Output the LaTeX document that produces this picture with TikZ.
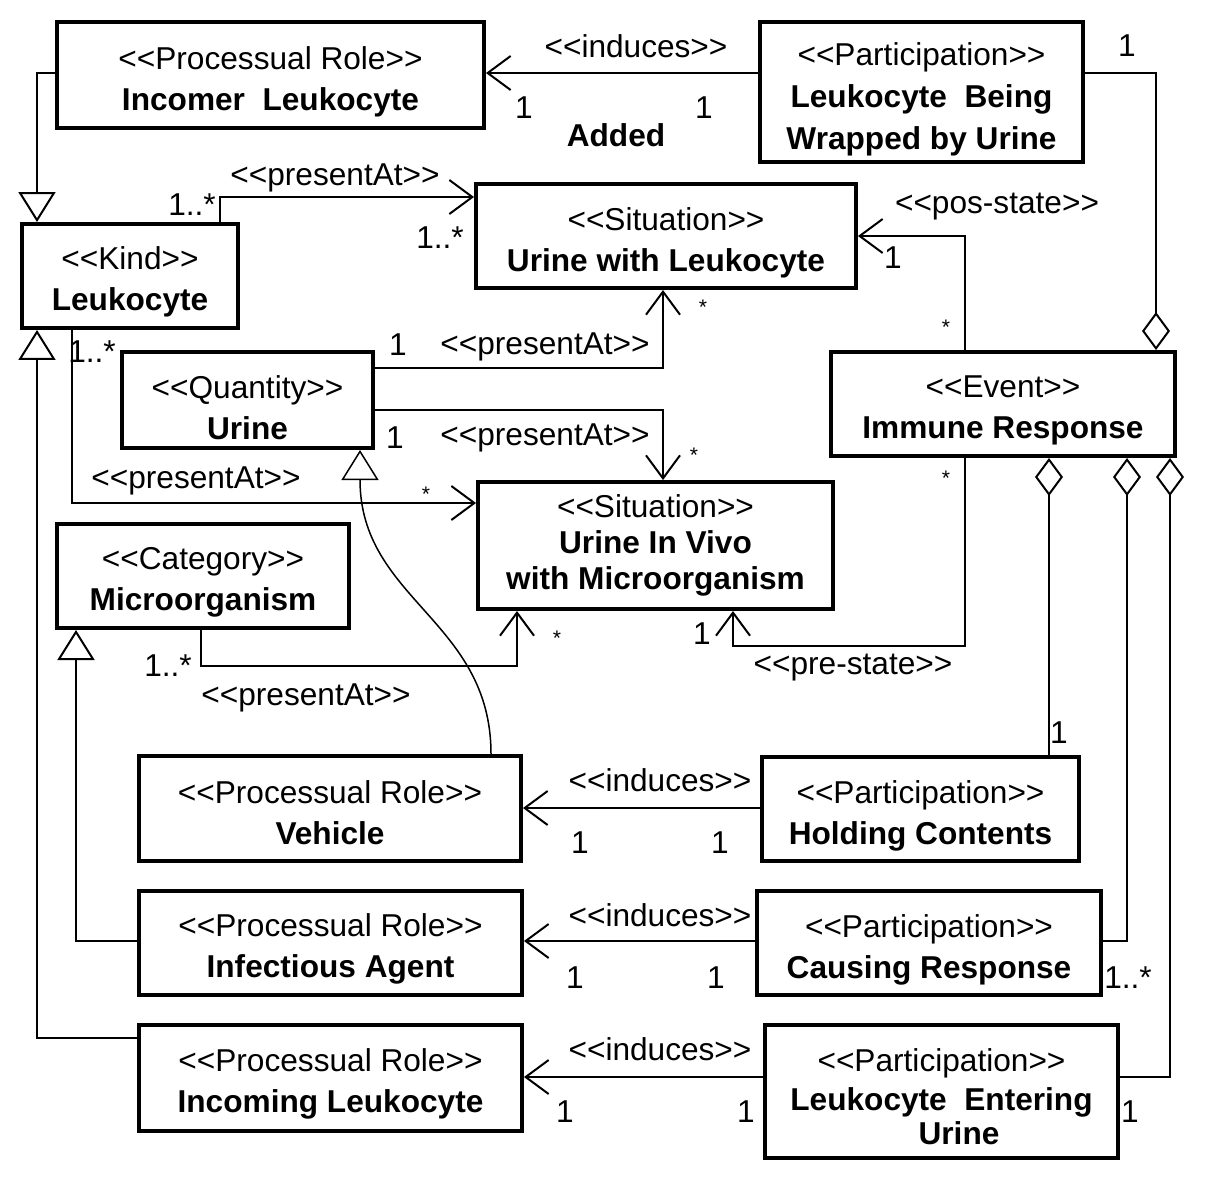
\documentclass[tikz,border=0pt]{standalone}
\usepackage{fontspec}
\setmainfont{Liberation Sans}[Ligatures=TeXOff]
\usetikzlibrary{arrows.meta}
\begin{document}
\begin{tikzpicture}[x=0.02cm,y=-0.02cm,
  box/.style={draw, line width=0.08cm, inner sep=0pt},
  btext/.style={align=center, inner sep=0pt, font=\fontsize{18}{23.3}\selectfont},
  conn/.style={line width=0.04cm},
  assoc/.style={conn, -{Straight Barb[length=0.46cm,width=0.68cm]}},
  gen/.style={conn, -{Triangle[open,length=0.6cm,width=0.74cm]}},
  agg/.style={conn, -{Diamond[open,length=0.76cm,width=0.56cm]}},
  lbl/.style={font=\fontsize{18}{22}\selectfont, inner sep=0pt},
  star/.style={font=\fontsize{12}{14}\selectfont, inner sep=0pt}]
\useasboundingbox (0,0) rectangle (1206,1178);

% boxes
\node[box, minimum width=8.54cm, minimum height=2.12cm] (A) at (270.5,75) {};
\node[box, minimum width=6.46cm, minimum height=2.80cm] (B) at (921.5,92) {};
\node[box, minimum width=4.32cm, minimum height=2.08cm] (C) at (130,276) {};
\node[box, minimum width=7.60cm, minimum height=2.08cm] (D) at (666,236) {};
\node[box, minimum width=5.02cm, minimum height=1.92cm] (E) at (247.5,400) {};
\node[box, minimum width=6.88cm, minimum height=2.08cm] (F) at (1003,404) {};
\node[box, minimum width=7.10cm, minimum height=2.54cm] (G) at (655.5,545.5) {};
\node[box, minimum width=5.84cm, minimum height=2.08cm] (H) at (203,576) {};
\node[box, minimum width=7.64cm, minimum height=2.10cm] (I) at (330,808.5) {};
\node[box, minimum width=6.34cm, minimum height=2.08cm] (J) at (920.5,809) {};
\node[box, minimum width=7.66cm, minimum height=2.08cm] (K) at (330.5,943) {};
\node[box, minimum width=6.88cm, minimum height=2.08cm] (L) at (929,943) {};
\node[box, minimum width=7.66cm, minimum height=2.12cm] (M) at (330.5,1078) {};
\node[box, minimum width=7.06cm, minimum height=2.66cm] (N) at (941.5,1091.5) {};

% box texts
\node[btext] (At) at (270.5,81.5) {<<Processual Role>>\\\textbf{Incomer\ \ Leukocyte}};
\node[btext] (Bt) at (921.5,99) {<<Participation>>\\[0.5pt]\textbf{Leukocyte\ \ Being}\\[0.5pt]\textbf{Wrapped by Urine}};
\node[btext] (Ct) at (130,282) {<<Kind>>\\\textbf{Leukocyte}};
\node[btext] (Dt) at (666,243) {<<Situation>>\\\textbf{Urine with Leukocyte}};
\node[btext] (Et) at (247.5,408) {<<Quantity>>\\\textbf{Urine}};
\node[btext] (Ft) at (1003,410.5) {<<Event>>\\\textbf{Immune Response}};
\node[btext] (Gt) at (655.5,545.5) {<<Situation>>\\[-3pt]\textbf{Urine In Vivo}\\[-3pt]\textbf{with Microorganism}};
\node[btext] (Ht) at (203,582.5) {<<Category>>\\\textbf{Microorganism}};
\node[btext] (It) at (330,812.5) {<<Processual Role>>\\\textbf{Vehicle}};
\node[btext] (Jt) at (920.5,815.5) {<<Participation>>\\\textbf{Holding Contents}};
\node[btext] (Kt) at (330.5,949) {<<Processual Role>>\\\textbf{Infectious Agent}};
\node[btext] (Lt) at (929,949.5) {<<Participation>>\\\textbf{Causing Response}};
\node[btext] (Mt) at (330.5,1084) {<<Processual Role>>\\\textbf{Incoming Leukocyte}};
\node[btext] (Nt) at (941.5,1097) {<<Participation>>\\[-1pt]\textbf{Leukocyte\ \ Entering}\\[-4pt]\hspace*{0.7cm}\textbf{Urine}};

% connectors
\draw[assoc] (B.west |- 0,73) -- (A.east |- 0,73);
\draw[gen] (A.west |- 0,73) -| (C.north -| 37,0);
\draw[agg] (B.east |- 0,73) -| (F.north -| 1156,0);
\draw[assoc] (C.north -| 220,0) |- (D.west |- 0,197);
\draw[assoc] (E.east |- 0,368) -| (D.south -| 663,0);
\draw[assoc] (E.east |- 0,410) -| (G.north -| 663,0);
\draw[assoc] (C.south -| 72,0) |- (G.west |- 0,503);
\draw[assoc] (H.south -| 201,0) |- (517,666) -- (G.south -| 517,0);
\draw[assoc] (F.north -| 965,0) |- (D.east |- 0,236);
\draw[assoc] (F.south -| 965,0) |- (733,646) -- (G.south -| 733,0);
\draw[agg] (J.north -| 1049,0) -- (F.south -| 1049,0);
\draw[agg] (L.east |- 0,941) -| (F.south -| 1127,0);
\draw[agg] (N.east |- 0,1077) -| (F.south -| 1170,0);
\draw[assoc] (J.west |- 0,808) -- (I.east |- 0,808);
\draw[assoc] (L.west |- 0,941) -- (K.east |- 0,941);
\draw[assoc] (N.west |- 0,1077) -- (M.east |- 0,1077);
\draw[gen, line width=0.03cm] (I.north -| 491,0) .. controls (491,620) and (360,600) .. (E.south -| 360,0);
\draw[gen] (K.west |- 0,941) -| (H.south -| 76,0);
\draw[gen] (M.west |- 0,1038) -| (C.south -| 37,0);

% labels
\node[lbl] (t1) at (636,46) {<<induces>>};
\node[lbl] (t2) at (524,108) {1};
\node[lbl] (t3) at (704,108) {1};
\node[lbl] (t4) at (616,135) {\textbf{Added}};
\node[lbl] (t5) at (1127,46) {1};
\node[lbl] (t6) at (192,205) {1..*};
\node[lbl] (t7) at (335,178) {<<presentAt>>};
\node[lbl] (t8) at (440,238) {1..*};
\node[lbl] (t9) at (398,345) {1};
\node[lbl] (t10) at (545,347) {<<presentAt>>};
\node[star] (t11) at (703,307) {*};
\node[lbl] (t12) at (395,438) {1};
\node[lbl] (t13) at (545,438) {<<presentAt>>};
\node[star] (t14) at (694,455) {*};
\node[lbl] (t15) at (92,352) {1..*};
\node[lbl] (t16) at (196,481) {<<presentAt>>};
\node[star] (t17) at (426,494) {*};
\node[lbl] (t18) at (168,666) {1..*};
\node[lbl] (t19) at (306,698) {<<presentAt>>};
\node[star] (t20) at (557,638) {*};
\node[lbl] (t21) at (997,207) {<<pos-state>>};
\node[lbl] (t22) at (893,258) {1};
\node[star] (t23) at (946,327) {*};
\node[star] (t24) at (946,478) {*};
\node[lbl] (t25) at (702,634) {1};
\node[lbl] (t26) at (853,668) {<<pre-state>>};
\node[lbl] (t27) at (1059,733) {1};
\node[lbl] (t28) at (1128,978) {1..*};
\node[lbl] (t29) at (1130,1112) {1};
\node[lbl] (t30) at (660,780) {<<induces>>};
\node[lbl] (t31) at (580,843) {1};
\node[lbl] (t32) at (720,843) {1};
\node[lbl] (t33) at (660,915) {<<induces>>};
\node[lbl] (t34) at (575,978) {1};
\node[lbl] (t35) at (716,978) {1};
\node[lbl] (t36) at (660,1049) {<<induces>>};
\node[lbl] (t37) at (565,1112) {1};
\node[lbl] (t38) at (746,1112) {1};
\end{tikzpicture}
\end{document}
